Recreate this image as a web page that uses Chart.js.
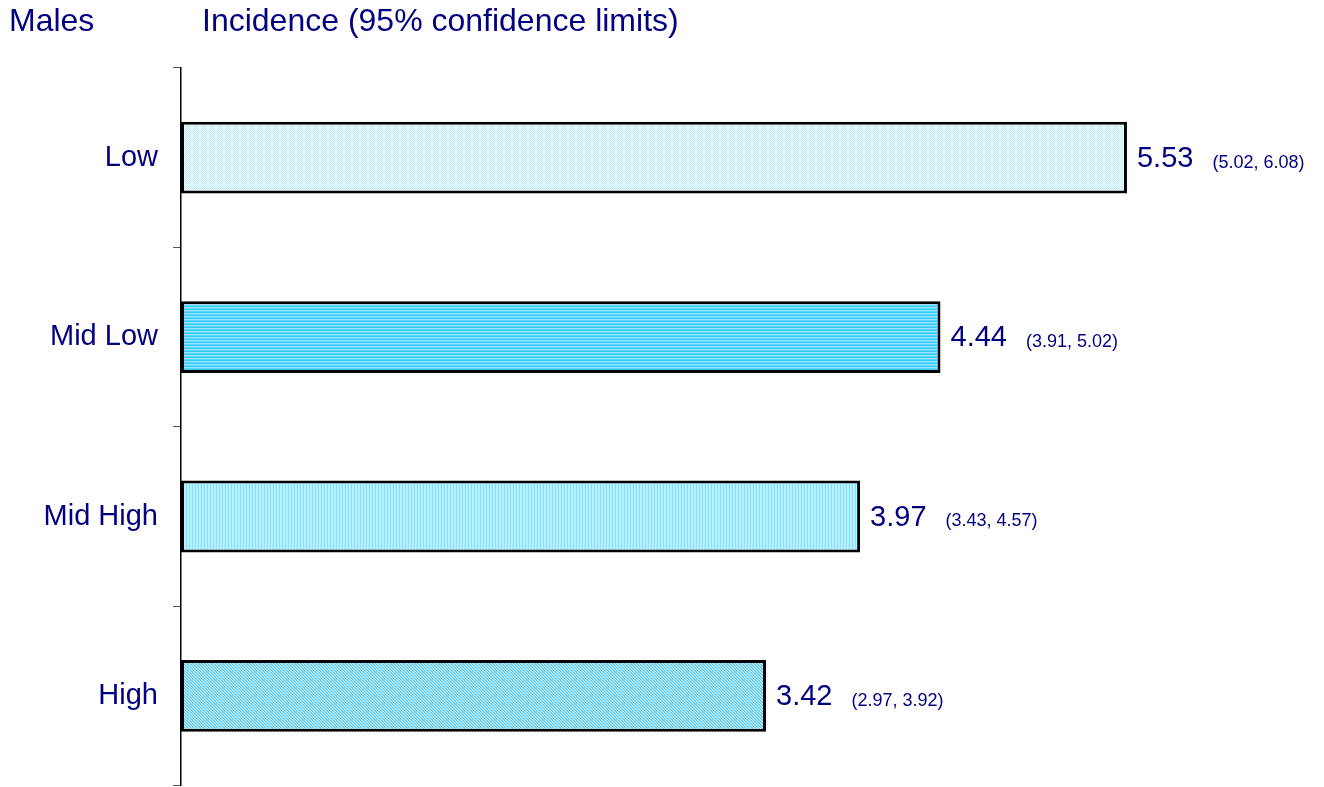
<!DOCTYPE html>
<html>
<head>
<meta charset="utf-8">
<script src="https://cdn.jsdelivr.net/npm/chart.js@4/dist/chart.umd.min.js"></script>
<style>
  html, body { margin: 0; padding: 0; background: #fff; overflow: hidden; }
  #wrap { position: relative; width: 1324px; height: 787px; overflow: hidden; }
</style>
</head>
<body>
<div id="wrap"><canvas id="c" width="1324" height="818"></canvas></div>
<script>
const categories = ["Low", "Mid Low", "Mid High", "High"];
const incidence = [5.53, 4.44, 3.97, 3.42];
const lowerCI = [5.02, 3.91, 3.43, 2.97];
const upperCI = [6.08, 5.02, 4.57, 3.92];
const leftTitle = "Males";
const mainTitle = "Incidence (95% confidence limits)";

const NAVY = "#000080";
const FONT = "'Liberation Sans', Arial, sans-serif";

function makePattern(w, h, painter) {
  const c = document.createElement("canvas");
  c.width = w; c.height = h;
  const g = c.getContext("2d");
  painter(g, w, h);
  return g.createPattern(c, "repeat");
}
function px(g, x, y, col) { g.fillStyle = col; g.fillRect(x, y, 1, 1); }

const ctx0 = document.getElementById("c").getContext("2d");
const patterns = [
  makePattern(2, 2, (g) => {
    g.fillStyle = "#ffffff"; g.fillRect(0, 0, 2, 2);
    px(g, 0, 0, "#b4eeff"); px(g, 1, 1, "#b4eeff");
  }),
  makePattern(1, 3, (g) => {
    px(g, 0, 0, "#33caff"); px(g, 0, 1, "#99e6ff"); px(g, 0, 2, "#5cd5ff");
  }),
  makePattern(3, 1, (g) => {
    px(g, 0, 0, "#86e2ff"); px(g, 1, 0, "#bff2ff"); px(g, 2, 0, "#aeeeff");
  }),
  makePattern(3, 3, (g) => {
    g.fillStyle = "#ffffff"; g.fillRect(0, 0, 3, 3);
    for (let y = 0; y < 3; y++) for (let x = 0; x < 3; x++) {
      const m = ((x - y) % 3 + 3) % 3;
      if (m === 0) px(g, x, y, "#33c8f5");
      else if (m === 1) px(g, x, y, "#80dcff");
    }
  })
];

const labelPlugin = {
  id: "labels",
  afterDatasetsDraw(chart) {
    const ctx = chart.ctx;
    const meta = chart.getDatasetMeta(0);
    ctx.save();
    ctx.fillStyle = NAVY;
    ctx.textBaseline = "middle";
    ctx.textAlign = "left";
    meta.data.forEach((bar, i) => {
      const v = incidence[i].toFixed(2);
      ctx.font = "29px " + FONT;
      const x0 = bar.x + 10;
      ctx.fillText(v, x0, bar.y + 1);
      const w = ctx.measureText(v).width;
      ctx.font = "18px " + FONT;
      ctx.fillText("(" + lowerCI[i].toFixed(2) + ", " + upperCI[i].toFixed(2) + ")", x0 + w + 19, bar.y + 5);
    });
    ctx.restore();
  },
  afterDraw(chart) {
    const ctx = chart.ctx;
    ctx.save();
    ctx.fillStyle = NAVY;
    ctx.textBaseline = "alphabetic";
    ctx.textAlign = "left";
    ctx.font = "32px " + FONT;
    ctx.fillText(leftTitle, 9, 31);
    ctx.fillText(mainTitle, 202, 31);
    ctx.restore();
  }
};

new Chart(ctx0, {
  type: "bar",
  data: {
    labels: categories,
    datasets: [{
      data: incidence,
      backgroundColor: patterns,
      borderColor: "#000000",
      borderWidth: 3,
      borderSkipped: false,
      barPercentage: 0.4,
      categoryPercentage: 1.0
    }]
  },
  options: {
    indexAxis: "y",
    responsive: false,
    animation: false,
    layout: { padding: { top: 68, bottom: 1, left: 0, right: 14 } },
    plugins: {
      legend: { display: false },
      tooltip: { enabled: false },
      title: { display: false }
    },
    scales: {
      x: { display: false, min: 0, max: 6.6 },
      y: {
        afterFit(scale) { scale.width = 181; },
        border: { display: true, color: "#000000", width: 1.5 },
        grid: {
          display: true,
          drawOnChartArea: false,
          drawTicks: true,
          tickLength: 8,
          color: "#555555",
          lineWidth: 1,
          offset: true
        },
        ticks: {
          color: NAVY,
          padding: 15,
          font: { family: FONT, size: 29 }
        }
      }
    }
  },
  plugins: [labelPlugin]
});
</script>
</body>
</html>
